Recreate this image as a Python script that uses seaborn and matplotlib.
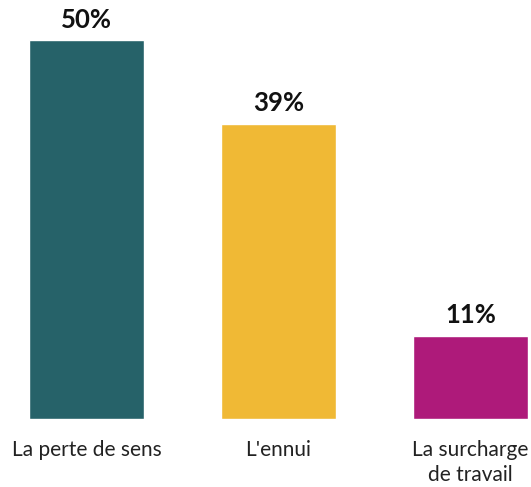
import matplotlib
matplotlib.use("Agg")
import matplotlib.pyplot as plt
import seaborn as sns
import pandas as pd

# data
categories = ["La perte de sens", "L'ennui", "La surcharge\nde travail"]
values = [50, 39, 11]
labels = ["50%", "39%", "11%"]
colors = ["#266269", "#f0b935", "#ae1a7a"]

df = pd.DataFrame({"cat": categories, "val": values})

sns.set_theme(style="white")
plt.rcParams["font.family"] = ["Lato", "DejaVu Sans"]

fig = plt.figure(figsize=(5.31, 4.87), dpi=100)
ax = fig.add_axes([29 / 531, 68 / 487, 499 / 531, 419 / 487])

sns.barplot(data=df, x="cat", y="val", hue="cat", palette=colors,
            width=0.6, legend=False, ax=ax, saturation=1)

ax.set_xlim(-0.3, 2.3)
ax.set_ylim(0, 55.3)
for i, (v, lab) in enumerate(zip(values, labels)):
    ax.annotate(lab, (i, v), xytext=(0, 6), textcoords="offset points",
                ha="center", va="bottom", fontsize=18.5, fontweight="bold",
                color="#111111", annotation_clip=False)

ax.set_xlabel("")
ax.set_ylabel("")
ax.set_yticks([])
ax.tick_params(axis="x", length=0, pad=15, labelsize=15, labelcolor="#222222")
for lbl in ax.get_xticklabels():
    lbl.set_fontweight("normal")
    lbl.set_linespacing(1.3)
sns.despine(ax=ax, left=True, bottom=True)

fig.savefig("out.png", dpi=100)
